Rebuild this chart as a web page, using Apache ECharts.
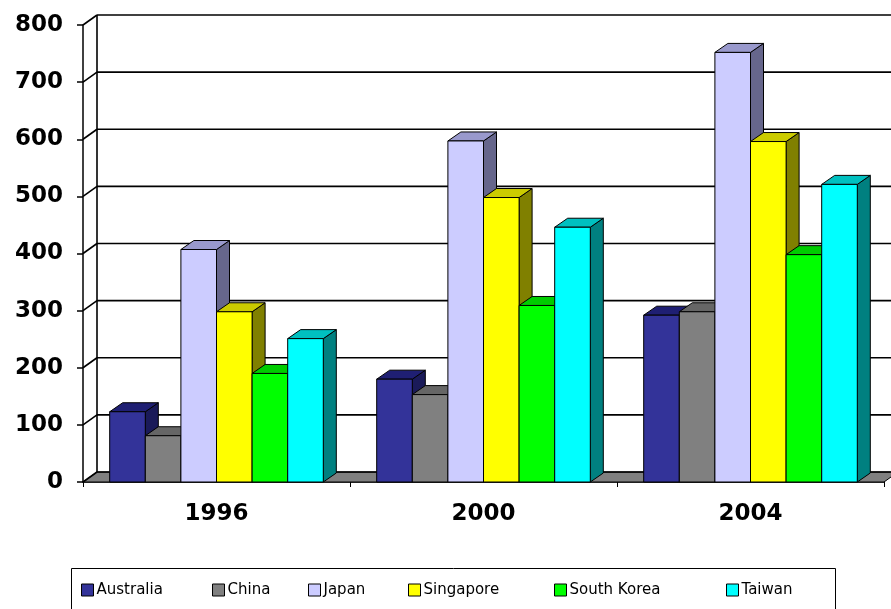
<!DOCTYPE html>
<html>
<head>
<meta charset="utf-8">
<script src="https://cdn.jsdelivr.net/npm/echarts@6/dist/echarts.min.js"></script>
<style>
html,body{margin:0;padding:0;background:#fff;}
#chart{width:891px;height:609px;}
</style>
</head>
<body>
<div id="chart"></div>
<script>
// ---- data ----
const categories = ['1996', '2000', '2004'];
const australia  = [123, 180, 292];
const china      = [81, 153, 298];
const japan      = [407, 597, 752];
const singapore  = [298, 498, 596];
const southKorea = [190, 309, 398];
const taiwan     = [251, 446, 521];
const yTicks = [0, 100, 200, 300, 400, 500, 600, 700, 800];

const seriesNames = ['Australia', 'China', 'Japan', 'Singapore', 'South Korea', 'Taiwan'];
const seriesValues = [australia, china, japan, singapore, southKorea, taiwan];
const frontColors = ['#333399', '#808080', '#CCCCFF', '#FFFF00', '#00FF00', '#00FFFF'];
const topColors   = ['#1F1F73', '#666666', '#9999CC', '#CCCC00', '#00CC00', '#00C0C0'];
const sideColors  = ['#1A1A59', '#4D4D4D', '#66668C', '#808000', '#008000', '#008080'];
const legendLeft  = [81, 212, 308, 408, 554, 726];

const WALL = [14, -10];
const BAR = [13, -9];
const GROUP = 0.8;

const chart = echarts.init(document.getElementById('chart'), null, {renderer: 'canvas'});

function barRenderer(si) {
  return function (params, api) {
    const ci = api.value(0), v = api.value(1);
    const base = api.coord([ci, 0]);
    const top = api.coord([ci, v]);
    const band = api.size([1, 0])[0];
    const bw = band * GROUP / seriesNames.length;
    const x0 = base[0] - band * GROUP / 2 + si * bw;
    const x1 = x0 + bw;
    const y0 = base[1], y1 = top[1];
    const stroke = {stroke: '#000', lineWidth: 1};
    return {
      type: 'group',
      children: [
        {type: 'polygon', shape: {points: [[x1, y1], [x1 + BAR[0], y1 + BAR[1]], [x1 + BAR[0], y0 + BAR[1]], [x1, y0]]},
          style: Object.assign({fill: sideColors[si]}, stroke)},
        {type: 'polygon', shape: {points: [[x0, y1], [x1, y1], [x1 + BAR[0], y1 + BAR[1]], [x0 + BAR[0], y1 + BAR[1]]]},
          style: Object.assign({fill: topColors[si]}, stroke)},
        {type: 'rect', shape: {x: x0, y: y1, width: bw, height: y0 - y1},
          style: Object.assign({fill: frontColors[si]}, stroke)}
      ]
    };
  };
}

function frameRenderer(params, api) {
  const cs = params.coordSys;
  const x = cs.x, w = cs.width, yb = cs.y + cs.height;
  const children = [];
  const line = {stroke: '#000', lineWidth: 1.6};
  children.push({type: 'polygon', shape: {points: [[x, yb], [x + w, yb], [x + w + WALL[0], yb + WALL[1]], [x + WALL[0], yb + WALL[1]]]},
    style: {fill: '#808080', stroke: '#000', lineWidth: 1}});
  const yTop = api.coord([0, yTicks[yTicks.length - 1]])[1];
  children.push({type: 'line', shape: {x1: x + WALL[0], y1: yTop + WALL[1], x2: x + WALL[0], y2: yb + WALL[1]}, style: line});
  yTicks.forEach(function (v) {
    const yv = api.coord([0, v])[1];
    children.push({type: 'line', shape: {x1: x, y1: yv, x2: x + WALL[0], y2: yv + WALL[1]}, style: line});
    children.push({type: 'line', shape: {x1: x + WALL[0], y1: yv + WALL[1], x2: x + w + WALL[0] + 20, y2: yv + WALL[1]}, style: line});
  });
  return {type: 'group', children: children};
}

const series = [{
  type: 'custom', name: 'frame', silent: true, clip: false, z: 1,
  renderItem: frameRenderer, data: [[0, 0]], encode: {x: 0, y: 1}
}];
seriesNames.forEach(function (name, si) {
  series.push({
    type: 'custom', name: name, clip: false, z: 2 + si,
    itemStyle: {color: frontColors[si]},
    renderItem: barRenderer(si),
    encode: {x: 0, y: 1},
    data: categories.map(function (c, i) { return [i, seriesValues[si][i]]; })
  });
});

const legends = seriesNames.map(function (name, si) {
  return {
    data: [name], left: legendLeft[si], top: 581, padding: 0,
    icon: 'rect', itemWidth: 12, itemHeight: 12, itemGap: 0,
    itemStyle: {borderColor: '#000', borderWidth: 1},
    textStyle: {fontFamily: 'DejaVu Sans', fontSize: 15, color: '#000', lineHeight: 18, padding: [0, 0, 0, -2]},
    selectedMode: false
  };
});

const labelFont = {fontFamily: 'DejaVu Sans', fontWeight: 'bold', fontSize: 23, color: '#000'};

chart.setOption({
  animation: false,
  backgroundColor: '#fff',
  grid: {left: 83, right: 7, top: 25, bottom: 127, containLabel: false},
  xAxis: {
    type: 'category', data: categories,
    axisLine: {show: true, lineStyle: {color: '#000', width: 1.5}},
    axisTick: {show: true, length: 5, lineStyle: {color: '#000', width: 1}},
    axisLabel: Object.assign({margin: 21}, labelFont),
    splitLine: {show: false}
  },
  yAxis: {
    type: 'value', min: 0, max: 800, interval: 100,
    axisLine: {show: true, lineStyle: {color: '#000', width: 1.5}},
    axisTick: {show: true, length: 6, lineStyle: {color: '#000', width: 1.5}},
    axisLabel: Object.assign({margin: 20}, labelFont),
    splitLine: {show: false}
  },
  legend: legends,
  graphic: [{
    type: 'rect', shape: {x: 71.5, y: 568.5, width: 764, height: 50},
    style: {fill: 'none', stroke: '#000', lineWidth: 1}, silent: true, z: 0
  }],
  series: series
});
</script>
</body>
</html>
